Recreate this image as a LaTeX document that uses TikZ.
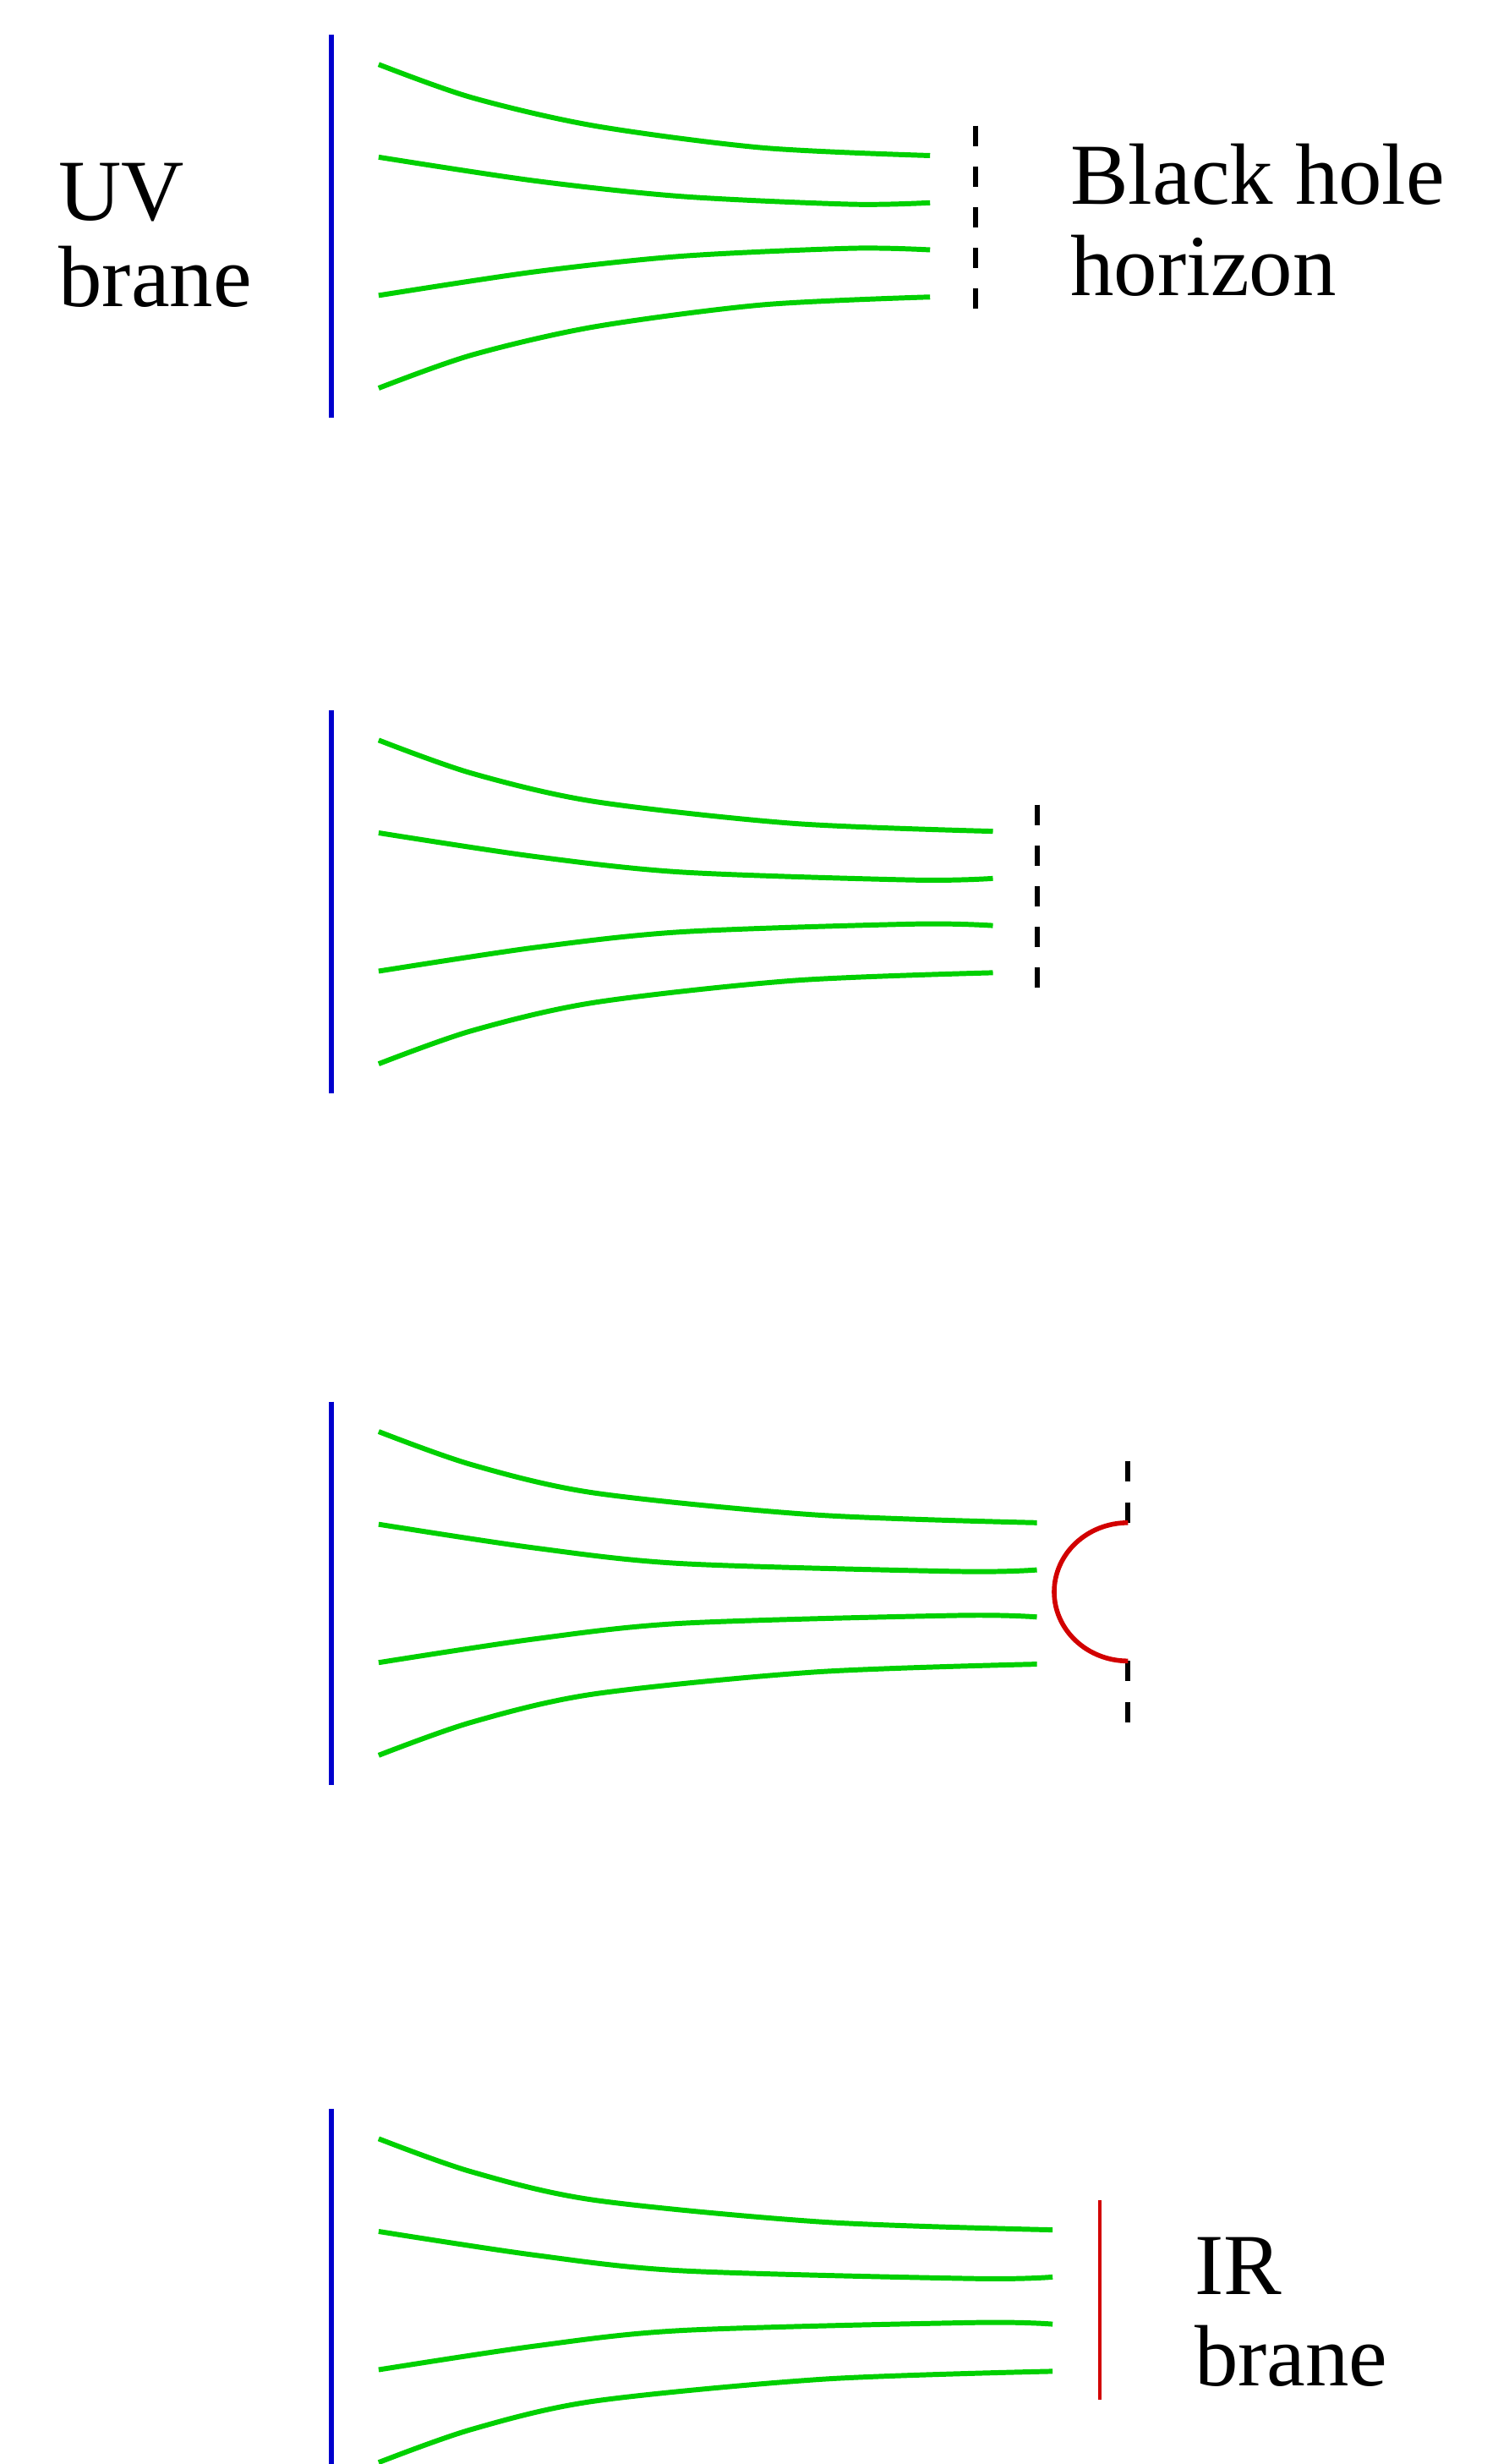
\documentclass[tikz,border=0pt]{standalone}
\usepackage{fontspec}
\setmainfont{Liberation Serif}
\definecolor{fgreen}{RGB}{0,208,0}
\definecolor{fblue}{RGB}{0,0,205}
\definecolor{fred}{RGB}{210,0,0}
\tikzset{
  gline/.style={draw=fgreen, line width=1.7pt},
  uvbrane/.style={draw=fblue, line width=1.7pt},
  horizonline/.style={draw=black, line width=1.7pt, dash pattern=on 6.86pt off 6.86pt},
  irarc/.style={draw=fred, line width=1.6pt},
  irbrane/.style={draw=fred, line width=1.1pt},
  lbl/.style={anchor=base west, inner sep=0pt, font=\fontsize{29.3}{30}\selectfont}
}
\newcommand\fieldlines[2]{%
  \begin{scope}[shift={(0,#1)}]
    \foreach \s in {1,-1}{
      \begin{scope}[yscale=\s]
        \draw[gline] plot[smooth,tension=0.5] coordinates {(241,-103) (300,-82) (378,-64) ({(378+#2)/2},-50) (#2,-45)};
        \draw[gline] plot[smooth,tension=0.5] coordinates {(241,-44) (340,-29) (434,-19) ({#2-50},-14) (#2,-15)};
      \end{scope}
    }
    \draw[uvbrane] (211,-122) -- (211,122);
  \end{scope}}
\begin{document}
\begin{tikzpicture}[x=0.0185938cm,y=-0.0185938cm]
\useasboundingbox (0,0) rectangle (960,1568);
% panel 1
\fieldlines{144}{592}
\draw[horizonline] (621,80) -- (621,197);
\node[lbl] (uv1) at (37,140) {UV};
\node[lbl] (uv2) at (37,195) {brane};
\node[lbl] (bh1) at (681,130) {Black hole};
\node[lbl] (bh2) at (681,188) {horizon};
% panel 2
\fieldlines{574}{632}
\draw[horizonline] (660,512) -- (660,629);
% panel 3
\fieldlines{1014}{660}
\draw[horizonline] (718,930) -- (718,969);
\draw[horizonline] (718,1057) -- (718,1096);
\draw[irarc] (718,969) arc[start angle=270, end angle=90, x radius=47, y radius=44];
% panel 4
\fieldlines{1464}{670}
\draw[irbrane] (700,1400) -- (700,1527);
\node[lbl] (ir1) at (760,1460) {IR};
\node[lbl] (ir2) at (760,1518) {brane};
\end{tikzpicture}
\end{document}
